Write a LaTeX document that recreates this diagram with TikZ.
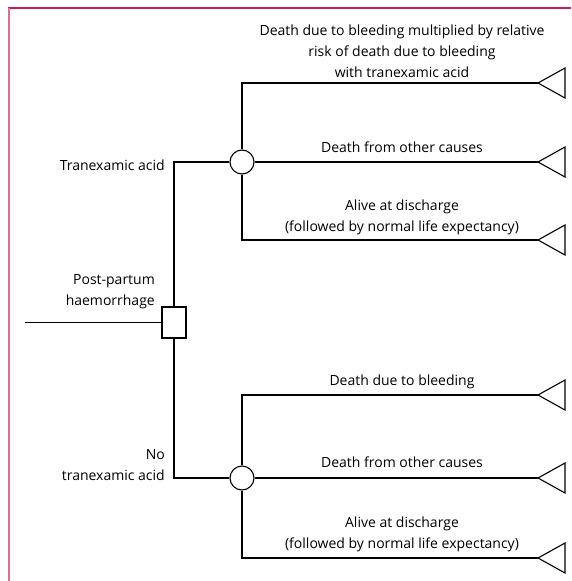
\documentclass[tikz,border=0pt]{standalone}
\usepackage{fontspec}
\setmainfont{Open Sans}
\begin{document}
\begin{tikzpicture}[x=1pt,y=-1pt,
  ln/.style={line width=1.1pt, black},
  decnode/.style={draw, ln, rectangle, minimum width=24pt, minimum height=31pt, inner sep=0pt, fill=white},
  chnode/.style={draw, ln, circle, minimum size=24pt, inner sep=0pt, fill=white},
  lbl/.style={font=\fontsize{14}{21}\selectfont, inner sep=0pt, align=center},
  rlbl/.style={font=\fontsize{14}{21}\selectfont, inner sep=0pt, align=right},
]
\useasboundingbox (0,0) rectangle (571,581);
% frame
\draw[line width=1.2pt, color={rgb,255:red,200;green,30;blue,80}] (8,8) -- (571,8);
\draw[line width=2pt, color={rgb,255:red,225;green,110;blue,145}] (9,8) -- (9,581);

% nodes
\node[decnode] (dec) at (174,322.5) {};
\node[chnode] (c1) at (242,162) {};
\node[chnode] (c2) at (242,478) {};
\coordinate (in) at (25,322.5);
\foreach \n/\y in {t1/83, t2/162, t3/240, t4/395, t5/478, t6/558}{
  \coordinate (\n) at (538,\y);
  \draw[ln, line join=miter] (\n) -- ++(27,-15) -- ++(0,30) -- cycle;
}

% connectors
\draw[ln] (in) -- (dec.west);
\draw[ln] (dec.north) |- (c1.west);
\draw[ln] (dec.south) |- (c2.west);
\draw[ln] (c1.north) |- (t1);
\draw[ln] (c1.east) -- (t2);
\draw[ln] (c1.south) |- (t3);
\draw[ln] (c2.north) |- (t4);
\draw[ln] (c2.east) -- (t5);
\draw[ln] (c2.south) |- (t6);

% labels
\node[lbl, anchor=base] (l1) at (402,77) {Death due to bleeding multiplied by relative\\risk of death due to bleeding\\with tranexamic acid};
\node[lbl, anchor=base] (l2) at (402,152) {Death from other causes};
\node[lbl, anchor=base] (l3) at (402,231) {Alive at discharge\\(followed by normal life expectancy)};
\node[lbl, anchor=base] (l4) at (402,385) {Death due to bleeding};
\node[lbl, anchor=base] (l5) at (402,467) {Death from other causes};
\node[lbl, anchor=base] (l6) at (402,548) {Alive at discharge\\(followed by normal life expectancy)};
\node[rlbl, anchor=base east] (a1) at (165,170) {Tranexamic acid};
\node[rlbl, anchor=base east] (a2) at (155,305) {Post-partum\\haemorrhage};
\node[rlbl, anchor=base east] (a3) at (165,480) {No\\tranexamic acid};
\end{tikzpicture}
\end{document}
